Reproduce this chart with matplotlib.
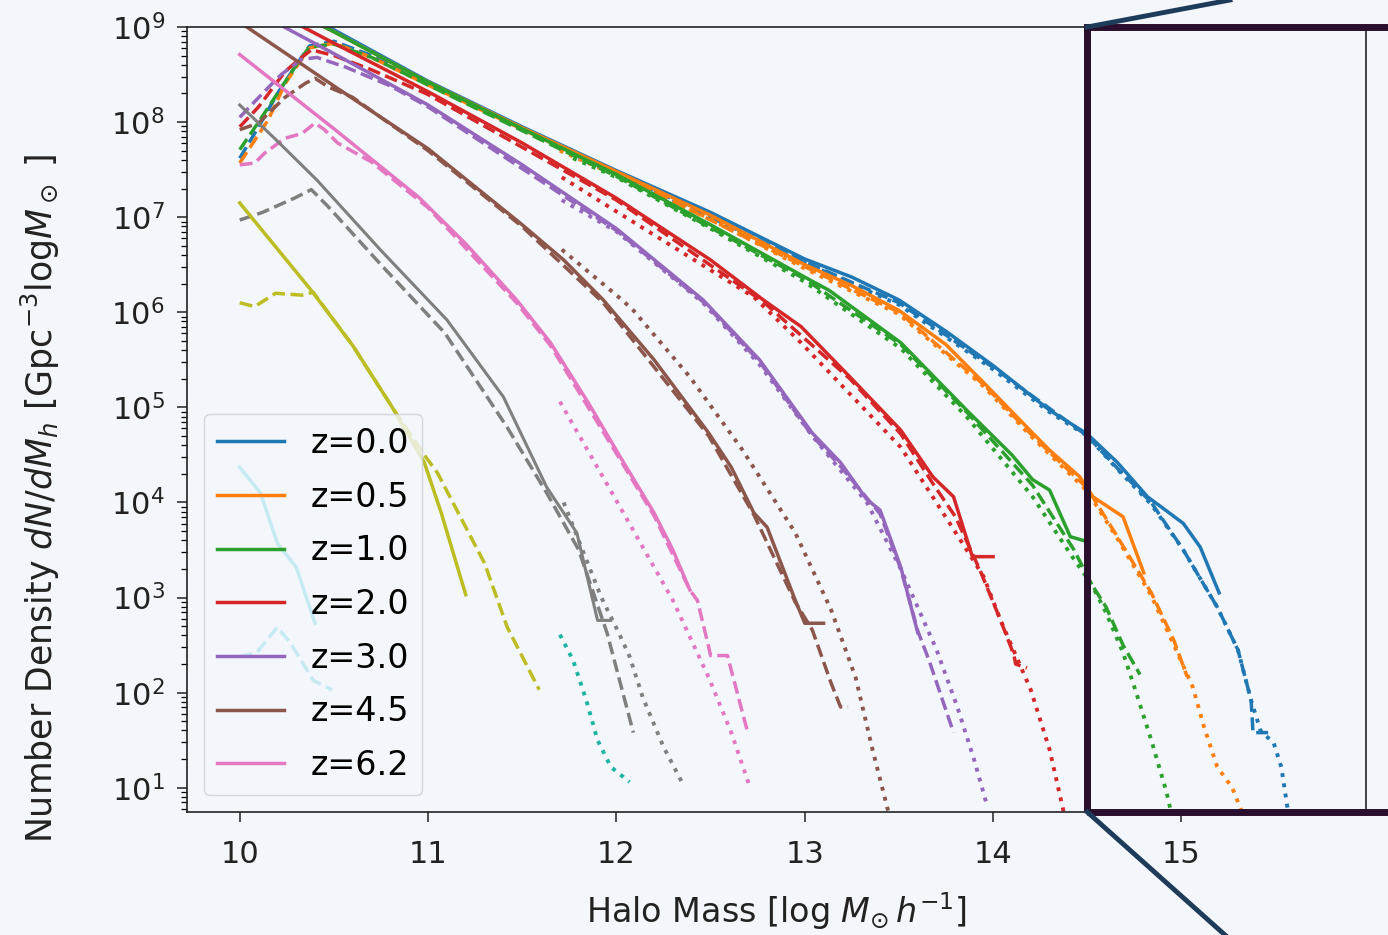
import numpy as np
import matplotlib.pyplot as plt
from matplotlib.patches import Rectangle
from matplotlib.lines import Line2D

# halo mass function, values are log10 of number density, x is log halo mass
bg = '#f3f6fb'
labels = ['z=0.0', 'z=0.5', 'z=1.0', 'z=2.0', 'z=3.0', 'z=4.5', 'z=6.2']
ytick_exp = [1, 2, 3, 4, 5, 6, 7, 8, 9]

# z=0.0 (blue)
z0_solid_m = [10.0, 10.5, 11.0, 11.5, 12.0, 12.5, 13.0, 13.25, 13.5, 13.75, 14.0, 14.3, 14.5, 14.66, 14.82, 15.01, 15.1, 15.2]
z0_solid_n = [9.47, 8.97, 8.43, 7.95, 7.49, 7.05, 6.56, 6.37, 6.13, 5.8, 5.44, 4.97, 4.72, 4.42, 4.06, 3.78, 3.53, 3.05]
z0_dash_m = [10.0, 10.1, 10.2, 10.3, 10.37, 10.5, 10.7, 11.0, 12.0, 13.0, 13.5, 14.0, 14.5, 14.66, 14.84, 15.01, 15.19, 15.3, 15.37, 15.38, 15.46]
z0_dash_n = [7.62, 7.95, 8.3, 8.6, 8.8, 8.85, 8.7, 8.4, 7.47, 6.53, 6.1, 5.42, 4.7, 4.36, 4.0, 3.5, 2.9, 2.45, 1.92, 1.58, 1.58]
z0_dot_m = [11.7, 12.0, 12.5, 13.0, 13.5, 14.0, 14.3, 14.5, 14.66, 14.84, 15.01, 15.19, 15.3, 15.37, 15.42, 15.49, 15.53, 15.57]
z0_dot_n = [7.72, 7.45, 7.0, 6.52, 6.08, 5.4, 4.95, 4.7, 4.35, 3.98, 3.5, 2.9, 2.45, 1.92, 1.6, 1.47, 1.22, 0.7]

# z=0.5 (orange)
z05_solid_m = [10.0, 10.5, 11.0, 11.5, 12.0, 12.5, 13.0, 13.25, 13.5, 13.75, 13.95, 14.21, 14.3, 14.46, 14.53, 14.69, 14.8]
z05_solid_n = [9.45, 8.95, 8.42, 7.94, 7.48, 7.02, 6.5, 6.28, 6.02, 5.66, 5.26, 4.73, 4.55, 4.27, 4.06, 3.85, 3.26]
z05_dash_m = [10.0, 10.15, 10.24, 10.29, 10.37, 10.5, 10.7, 11.0, 12.0, 13.0, 13.5, 13.95, 14.21, 14.5, 14.66, 14.84, 14.96, 15.03]
z05_dash_n = [7.57, 8.02, 8.4, 8.55, 8.78, 8.83, 8.68, 8.39, 7.46, 6.48, 6.0, 5.24, 4.7, 4.15, 3.64, 3.05, 2.55, 2.17]
z05_dot_m = [11.7, 12.0, 12.5, 13.0, 13.5, 13.95, 14.21, 14.5, 14.66, 14.84, 14.96, 15.06, 15.12, 15.19, 15.27, 15.33]
z05_dot_n = [7.7, 7.44, 6.98, 6.46, 5.98, 5.22, 4.68, 4.12, 3.62, 3.02, 2.5, 2.06, 1.64, 1.22, 1.0, 0.7]

# z=1.0 (green)
z1_solid_m = [10.0, 10.5, 11.0, 11.5, 12.0, 12.5, 13.0, 13.13, 13.51, 13.86, 14.1, 14.21, 14.3, 14.41, 14.48]
z1_solid_n = [9.45, 8.95, 8.42, 7.93, 7.45, 6.92, 6.37, 6.23, 5.68, 4.97, 4.5, 4.24, 4.13, 3.64, 3.6]
z1_dash_m = [10.0, 10.1, 10.2, 10.3, 10.37, 10.5, 10.7, 11.0, 12.0, 13.0, 13.51, 13.86, 14.21, 14.43, 14.52, 14.6, 14.69, 14.78]
z1_dash_n = [7.71, 8.0, 8.3, 8.6, 8.79, 8.82, 8.68, 8.39, 7.43, 6.35, 5.66, 4.95, 4.18, 3.5, 3.15, 2.9, 2.5, 2.19]
z1_dot_m = [11.77, 12.0, 12.5, 13.0, 13.51, 13.86, 14.21, 14.43, 14.52, 14.6, 14.69, 14.76, 14.84, 14.92, 14.95]
z1_dot_n = [7.62, 7.42, 6.88, 6.32, 5.62, 4.9, 4.06, 3.4, 3.15, 2.84, 2.42, 2.0, 1.5, 0.96, 0.7]

# z=2.0 (red)
z2_solid_m = [10.0, 10.5, 11.0, 11.5, 12.0, 12.5, 12.78, 12.98, 13.24, 13.51, 13.68, 13.79, 13.89, 14.0]
z2_solid_n = [9.35, 8.83, 8.32, 7.78, 7.2, 6.55, 6.13, 5.85, 5.32, 4.76, 4.27, 4.06, 3.43, 3.43]
z2_dash_m = [10.0, 10.1, 10.24, 10.31, 10.38, 10.5, 10.7, 11.0, 12.0, 12.78, 13.24, 13.51, 13.68, 13.8, 13.93, 14.04, 14.11, 14.12, 14.18]
z2_dash_n = [7.95, 8.16, 8.53, 8.65, 8.76, 8.7, 8.55, 8.29, 7.18, 6.11, 5.3, 4.72, 4.2, 3.85, 3.29, 2.76, 2.4, 2.3, 2.26]
z2_dot_m = [11.71, 12.0, 12.73, 12.98, 13.51, 13.77, 13.95, 14.04, 14.2, 14.3, 14.38]
z2_dot_n = [7.42, 7.06, 6.16, 5.68, 4.58, 3.78, 3.22, 2.76, 2.03, 1.4, 0.7]

# z=3.0 (purple)
z3_solid_m = [10.0, 10.5, 11.0, 11.5, 12.0, 12.46, 12.76, 13.04, 13.19, 13.33, 13.4, 13.51, 13.6]
z3_solid_n = [9.25, 8.72, 8.18, 7.55, 6.88, 6.13, 5.5, 4.73, 4.42, 4.03, 3.92, 3.32, 2.63]
z3_dash_m = [10.0, 10.13, 10.22, 10.33, 10.41, 10.56, 10.8, 11.0, 12.0, 12.46, 12.76, 13.04, 13.19, 13.4, 13.51, 13.6, 13.66, 13.79]
z3_dash_n = [8.05, 8.32, 8.5, 8.66, 8.68, 8.58, 8.38, 8.16, 6.86, 6.11, 5.48, 4.7, 4.38, 3.88, 3.3, 2.65, 2.34, 1.58]
z3_dot_m = [11.71, 12.0, 12.46, 12.76, 13.04, 13.33, 13.51, 13.7, 13.81, 13.9, 13.97]
z3_dot_n = [7.18, 6.85, 6.1, 5.45, 4.7, 4.0, 3.3, 2.45, 1.85, 1.29, 0.8]

# z=4.5 (brown)
z45_solid_m = [10.0, 10.5, 11.0, 11.5, 11.72, 11.93, 12.2, 12.49, 12.61, 12.73, 12.8, 12.95, 13.0, 13.1]
z45_solid_n = [9.05, 8.38, 7.72, 6.92, 6.55, 6.13, 5.5, 4.73, 4.37, 3.89, 3.74, 2.97, 2.73, 2.73]
z45_dash_m = [10.0, 10.1, 10.24, 10.35, 10.4, 10.47, 10.6, 10.77, 11.0, 11.5, 11.93, 12.49, 12.73, 12.95, 13.04, 13.14, 13.19, 13.23]
z45_dash_n = [7.92, 7.99, 8.26, 8.41, 8.46, 8.37, 8.26, 8.02, 7.7, 6.9, 6.1, 4.7, 3.87, 2.95, 2.66, 2.1, 1.85, 1.85]
z45_dot_m = [11.71, 12.03, 12.09, 12.39, 12.67, 12.95, 13.14, 13.27, 13.36, 13.45]
z45_dot_n = [6.66, 6.13, 6.02, 5.32, 4.55, 3.68, 2.87, 2.16, 1.4, 0.7]

# z=6.2 (pink)
z62_solid_m = [10.0, 10.5, 10.95, 11.2, 11.47, 11.65, 11.85, 12.02, 12.2, 12.3, 12.39]
z62_solid_n = [8.71, 7.93, 7.21, 6.72, 6.13, 5.68, 5.05, 4.48, 3.89, 3.5, 3.08]
z62_dash_m = [10.0, 10.08, 10.13, 10.24, 10.33, 10.4, 10.45, 10.52, 10.7, 11.0, 11.47, 11.65, 12.02, 12.2, 12.39, 12.43, 12.49, 12.5, 12.59, 12.6, 12.7]
z62_dash_n = [7.55, 7.57, 7.67, 7.83, 7.88, 7.99, 7.92, 7.78, 7.58, 7.1, 6.1, 5.65, 4.45, 3.86, 3.08, 2.97, 2.48, 2.39, 2.39, 2.31, 1.56]
z62_dot_m = [11.7, 12.02, 12.3, 12.49, 12.61, 12.71]
z62_dot_n = [5.06, 3.95, 2.97, 2.16, 1.58, 1.0]

# higher redshift curves (not in legend)
gray_solid_m = [10.0, 10.2, 10.41, 10.75, 11.1, 11.4, 11.63, 11.79, 11.84, 11.9, 11.97]
gray_solid_n = [8.18, 7.8, 7.39, 6.65, 5.92, 5.11, 4.16, 3.68, 3.26, 2.76, 2.76]
gray_dash_m = [10.0, 10.12, 10.29, 10.38, 10.47, 10.75, 11.09, 11.42, 11.63, 11.8, 11.95, 11.97, 12.09]
gray_dash_n = [6.97, 7.05, 7.2, 7.29, 7.11, 6.5, 5.78, 4.79, 4.1, 3.5, 2.63, 2.48, 1.58]
gray_dot_m = [11.72, 11.82, 11.92, 12.01, 12.07, 12.14, 12.25, 12.35]
gray_dot_n = [4.0, 3.5, 3.0, 2.64, 2.38, 1.95, 1.43, 1.05]

teal_dot_m = [11.7, 11.77, 11.84, 11.9, 11.97, 12.07]
teal_dot_n = [2.61, 2.34, 1.92, 1.5, 1.22, 1.06]

olive_solid_m = [10.0, 10.38, 10.6, 10.81, 10.98, 11.07, 11.2]
olive_solid_n = [7.15, 6.23, 5.65, 5.0, 4.42, 3.89, 3.03]
olive_dash_m = [10.0, 10.08, 10.19, 10.33, 10.39, 10.6, 10.81, 10.98, 11.05, 11.3, 11.42, 11.59]
olive_dash_n = [6.1, 6.06, 6.2, 6.18, 6.21, 5.65, 5.0, 4.5, 4.31, 3.36, 2.69, 2.03]

cyan_solid_m = [10.0, 10.11, 10.2, 10.3, 10.4]
cyan_solid_n = [4.37, 4.1, 3.57, 3.32, 2.73]
cyan_dash_m = [10.0, 10.09, 10.2, 10.27, 10.39, 10.49]
cyan_dash_n = [2.38, 2.42, 2.69, 2.52, 2.13, 2.03]

main = [
    ('C0', z0_solid_m, z0_solid_n, z0_dash_m, z0_dash_n, z0_dot_m, z0_dot_n),
    ('C1', z05_solid_m, z05_solid_n, z05_dash_m, z05_dash_n, z05_dot_m, z05_dot_n),
    ('C2', z1_solid_m, z1_solid_n, z1_dash_m, z1_dash_n, z1_dot_m, z1_dot_n),
    ('C3', z2_solid_m, z2_solid_n, z2_dash_m, z2_dash_n, z2_dot_m, z2_dot_n),
    ('C4', z3_solid_m, z3_solid_n, z3_dash_m, z3_dash_n, z3_dot_m, z3_dot_n),
    ('C5', z45_solid_m, z45_solid_n, z45_dash_m, z45_dash_n, z45_dot_m, z45_dot_n),
    ('C6', z62_solid_m, z62_solid_n, z62_dash_m, z62_dash_n, z62_dot_m, z62_dot_n),
]

W, H = 1388, 935
fig = plt.figure(figsize=(W/100, H/100), dpi=100, facecolor=bg)
ax = fig.add_axes([187/W, 1-812/H, (1366-187)/W, (812-27)/H])
ax.set_facecolor(bg)

lw = 2.5
handles = []
for (c, sm, sn, dm, dn, om, on), lab in zip(main, labels):
    h, = ax.plot(sm, 10**np.array(sn), '-', color=c, lw=lw, label=lab)
    ax.plot(dm, 10**np.array(dn), '--', color=c, lw=lw)
    ax.plot(om, 10**np.array(on), ':', color=c, lw=lw+0.3)
    handles.append(h)

ax.plot(gray_solid_m, 10**np.array(gray_solid_n), '-', color='C7', lw=lw-0.3)
ax.plot(gray_dash_m, 10**np.array(gray_dash_n), '--', color='C7', lw=lw)
ax.plot(gray_dot_m, 10**np.array(gray_dot_n), ':', color='C7', lw=lw+0.3)
ax.plot(olive_solid_m, 10**np.array(olive_solid_n), '-', color='C8', lw=lw)
ax.plot(olive_dash_m, 10**np.array(olive_dash_n), '--', color='C8', lw=lw)
ax.plot(teal_dot_m, 10**np.array(teal_dot_n), ':', color='#1db4a4', lw=lw+0.3)
ax.plot(cyan_solid_m, 10**np.array(cyan_solid_n), '-', color='C9', lw=lw)
ax.plot(cyan_dash_m, 10**np.array(cyan_dash_n), '--', color='C9', lw=lw)

ax.set_yscale('log')
ax.set_xlim(9.72, 15.98)
ax.set_ylim(10**0.745, 1e9)
ax.set_xticks([10, 11, 12, 13, 14, 15])
ax.set_yticks([10.0**k for k in ytick_exp])
ax.tick_params(labelsize=22, length=7, width=1.1, colors='#222222')
ax.tick_params(axis='x', pad=13)
ax.tick_params(axis='y', pad=9)
ax.tick_params(which='minor', length=4, width=0.9)
for s in ax.spines.values():
    s.set_linewidth(1.2)
    s.set_color('#222222')

ax.set_xlabel(r'Halo Mass [log $M_{\odot}\,h^{-1}$]', fontsize=24, color='#222222')
ax.set_ylabel(r'Number Density $dN/dM_h$ [Gpc$^{-3}$log$M_\odot$ ]', fontsize=25, color='#222222')
ax.xaxis.set_label_coords(0.5, -0.1)
ax.yaxis.set_label_coords(-0.106, 0.399)

leg = ax.legend(handles=handles, loc='lower left', fontsize=24, framealpha=0.8,
                labelspacing=0.62, facecolor=bg, edgecolor='#cccccc')

# zoom box and connector lines
box = Rectangle((14.5, 0.0), 3.0, 1.0, transform=ax.get_xaxis_transform(),
                fill=False, ec='#2a0e2d', lw=5, clip_on=False, zorder=6)
ax.add_patch(box)
to_fig = fig.transFigure.inverted()
top_c = to_fig.transform(ax.get_xaxis_transform().transform((14.5, 1.0)))
bot_c = to_fig.transform(ax.get_xaxis_transform().transform((14.5, 0.0)))
fig.add_artist(Line2D([top_c[0], 1230/W], [top_c[1], 1.0], color='#1e3c5a', lw=3.5, zorder=7))
fig.add_artist(Line2D([bot_c[0], 1225/W], [bot_c[1], 0.0], color='#1e3c5a', lw=3.5, zorder=7))

fig.savefig('out.png', dpi=100, facecolor=bg)
